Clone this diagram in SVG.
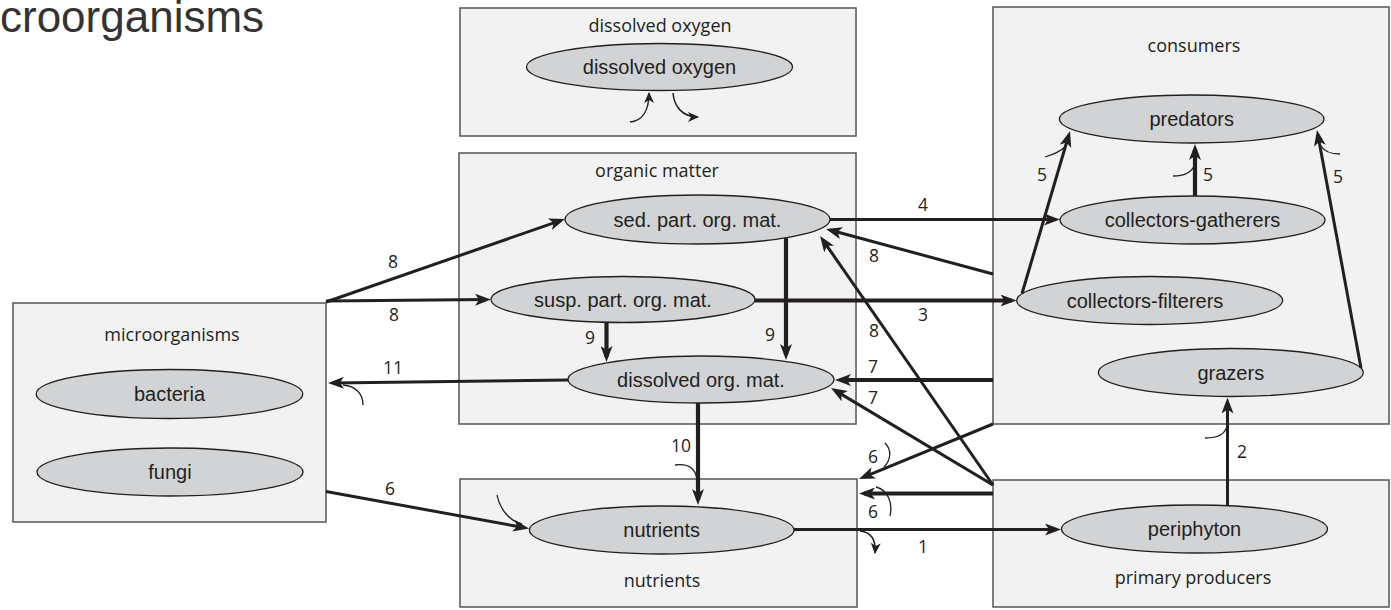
<svg xmlns="http://www.w3.org/2000/svg" width="1391" height="610" viewBox="0 0 1391 610">
<style>
.box{fill:#f2f2f2;stroke:#555;stroke-width:1.5}
.ell{fill:#d1d3d4;stroke:#231f20;stroke-width:1.3}
.lbl{font-family:"Liberation Sans",Arial,sans-serif;font-size:20px;fill:#231f20;text-anchor:middle}
.ttl{font-family:"Open Sans","DejaVu Sans",sans-serif;font-size:18px;fill:#231f20;text-anchor:middle}
.num{font-family:"Open Sans","DejaVu Sans",sans-serif;font-size:17.5px;fill:#231f20;text-anchor:middle}
.c{fill:none;stroke:#231f20;stroke-width:3;marker-end:url(#ah)}
.ck{fill:none;stroke:#231f20;stroke-width:4.2;marker-end:url(#ah)}
.tick{fill:none;stroke:#231f20;stroke-width:1.3}
.sm{fill:none;stroke:#231f20;stroke-width:1.5;marker-end:url(#as)}
</style>
<defs>
<marker id="ah" markerUnits="userSpaceOnUse" viewBox="0 0 16 12" refX="11" refY="6" markerWidth="16" markerHeight="12" orient="auto">
<path d="M0,0 L16,6 L0,12 L4,6 z" fill="#231f20"/>
</marker>
<marker id="as" markerUnits="userSpaceOnUse" viewBox="0 0 11 10" refX="10" refY="5" markerWidth="11" markerHeight="10" orient="auto">
<path d="M0,0 L11,5 L0,10 L3,5 z" fill="#231f20"/>
</marker>
</defs>
<rect width="1391" height="610" fill="#fff"/>
<text x="0" y="32" font-family="Liberation Sans, Arial, sans-serif" font-size="44" fill="#333">croorganisms</text>

<g id="box-dissolved-oxygen">
<rect class="box" x="460" y="8" width="396" height="128"/>
<text class="ttl" x="660" y="32">dissolved oxygen</text>
</g>
<g id="box-organic-matter">
<rect class="box" x="459" y="153" width="397" height="271"/>
<text class="ttl" x="657" y="177">organic matter</text>
</g>
<g id="box-consumers">
<rect class="box" x="993" y="7" width="396" height="417"/>
<text class="ttl" x="1194" y="52">consumers</text>
</g>
<g id="box-microorganisms">
<rect class="box" x="13" y="303" width="313" height="219"/>
<text class="ttl" x="172" y="341">microorganisms</text>
</g>
<g id="box-nutrients">
<rect class="box" x="460" y="479" width="397" height="128"/>
<text class="ttl" x="662" y="587">nutrients</text>
</g>
<g id="box-primary-producers">
<rect class="box" x="993" y="480" width="396" height="127"/>
<text class="ttl" x="1193" y="584">primary producers</text>
</g>

<g id="node-dissolved-oxygen">
<ellipse class="ell" cx="659.5" cy="67" rx="133" ry="23.5"/>
<text class="lbl" x="659.5" y="74">dissolved oxygen</text>
</g>
<g id="node-sed-part">
<ellipse class="ell" cx="697.5" cy="219.5" rx="132.5" ry="24.5"/>
<text class="lbl" x="697.5" y="226.5">sed. part. org. mat.</text>
</g>
<g id="node-susp-part">
<ellipse class="ell" cx="623" cy="299.5" rx="132" ry="23"/>
<text class="lbl" x="623" y="306.5">susp. part. org. mat.</text>
</g>
<g id="node-dissolved-org">
<ellipse class="ell" cx="701" cy="379.5" rx="133" ry="23.5"/>
<text class="lbl" x="701" y="386.5">dissolved org. mat.</text>
</g>
<g id="node-bacteria">
<ellipse class="ell" cx="169.5" cy="394" rx="133.3" ry="24.5"/>
<text class="lbl" x="169.5" y="401">bacteria</text>
</g>
<g id="node-fungi">
<ellipse class="ell" cx="170" cy="472" rx="133" ry="24"/>
<text class="lbl" x="170" y="479">fungi</text>
</g>
<g id="node-nutrients">
<ellipse class="ell" cx="661.7" cy="530" rx="132.3" ry="24"/>
<text class="lbl" x="661.7" y="537">nutrients</text>
</g>
<g id="node-periphyton">
<ellipse class="ell" cx="1194.5" cy="529" rx="133" ry="24"/>
<text class="lbl" x="1194.5" y="536">periphyton</text>
</g>
<g id="node-predators">
<ellipse class="ell" cx="1191.7" cy="119" rx="132.3" ry="24"/>
<text class="lbl" x="1191.7" y="126">predators</text>
</g>
<g id="node-collectors-gatherers">
<ellipse class="ell" cx="1192.5" cy="220" rx="132.5" ry="24"/>
<text class="lbl" x="1192.5" y="227">collectors-gatherers</text>
</g>
<g id="node-collectors-filterers">
<ellipse class="ell" cx="1149.7" cy="300.5" rx="133" ry="24"/>
<text class="lbl" x="1145" y="307.5">collectors-filterers</text>
</g>
<g id="node-grazers">
<ellipse class="ell" cx="1230.8" cy="372.5" rx="132.5" ry="24"/>
<text class="lbl" x="1230.8" y="379.5">grazers</text>
</g>

<g id="connectors">
<path class="c" d="M326,302 L560.3,220.6"/>
<path class="c" d="M326,301 L486,299.6"/>
<path class="c" d="M830,219.5 L1055,219.5"/>
<path class="ck" d="M755,300.5 L1011.5,300.5"/>
<path class="c" d="M993,274 L830.8,230.3"/>
<path class="c" d="M993,485 L822.9,240.1"/>
<path class="ck" d="M786,238 L786,355"/>
<path class="ck" d="M606.5,322 L606.5,357"/>
<path class="c" d="M568,380 L333,382.9"/>
<path class="ck" d="M993,380 L840,380"/>
<path class="c" d="M993,485 L835.3,390.6"/>
<path class="c" d="M993,424 L863.6,477.1"/>
<path class="ck" d="M993,493.5 L864,493.5"/>
<path class="c" d="M794,529.5 L1056,529.5"/>
<path class="c" d="M326,491.5 L524.1,527.6"/>
<path class="ck" d="M698,403 L698,500"/>
<path class="c" d="M1227.5,505.5 L1227.5,402.5"/>
<path class="c" d="M1022,293.5 L1068.6,135.8"/>
<path class="ck" d="M1195,196 L1195,149"/>
<path class="c" d="M1361,368 L1317.9,134.9"/>

<path class="tick" d="M363,405 C363,394 356,386 343,385"/>
<path class="tick" d="M885,443 C892,450 891,460 884,467"/>
<path class="tick" d="M876,487 C888,490 893,503 890,516"/>
<path class="tick" d="M497,495 C500,510 510,521 522,524"/>
<path class="tick" d="M675,465 C690,463 697,470 697,482"/>
<path class="tick" d="M1205,438 C1218,438 1226,434 1227,425"/>
<path class="tick" d="M1045,157 C1055,154 1062,150 1066,146"/>
<path class="tick" d="M1173,176 C1184,176 1191,173 1194,166"/>
<path class="tick" d="M1340,154 C1330,154 1324,151 1321,146"/>
<path class="sm" d="M860,531 C871,532 876,540 875,553"/>
<path class="sm" d="M630,122 C642,121 649,111 649,93"/>
<path class="sm" d="M673,93 C674,106 682,117 698,117"/>

<text class="num" x="393" y="268">8</text>
<text class="num" x="394" y="321">8</text>
<text class="num" x="923" y="211">4</text>
<text class="num" x="923" y="321">3</text>
<text class="num" x="874" y="262">8</text>
<text class="num" x="874" y="337">8</text>
<text class="num" x="770" y="341">9</text>
<text class="num" x="590" y="344">9</text>
<text class="num" x="393" y="374">11</text>
<text class="num" x="873" y="373">7</text>
<text class="num" x="873" y="404">7</text>
<text class="num" x="873" y="463">6</text>
<text class="num" x="873" y="518">6</text>
<text class="num" x="923" y="553">1</text>
<text class="num" x="390" y="495">6</text>
<text class="num" x="681" y="452">10</text>
<text class="num" x="1242" y="458">2</text>
<text class="num" x="1042" y="181">5</text>
<text class="num" x="1208" y="181">5</text>
<text class="num" x="1338" y="183">5</text>
</g>
</svg>
